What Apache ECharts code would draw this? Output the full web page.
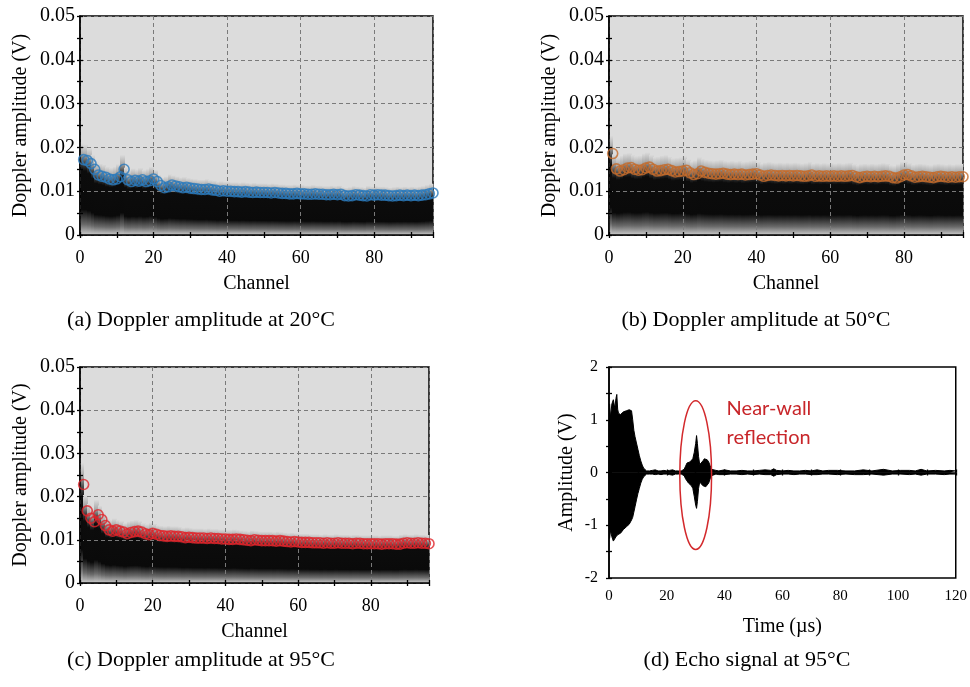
<!DOCTYPE html>
<html><head><meta charset="utf-8">
<script src="https://cdn.jsdelivr.net/npm/echarts@6/dist/echarts.min.js"></script>
<style>html,body{margin:0;padding:0;background:#fff}#c{width:970px;height:687px}</style>
</head><body><div id="c"></div>
<script>
// ---------- data ----------
const channelCount = 96; // channels 1..96
const channels = Array.from({length: channelCount}, (_, i) => i + 1);

const amp20 = [
 0.0172,0.0170,0.0163,0.0150,0.0137,0.0134,0.0132,0.0128,0.0126,0.0128,
 0.0133,0.0150,0.0126,0.0122,0.0125,0.0123,0.0126,0.0122,0.0124,0.0128,
 0.0122,0.0113,0.0108,0.0110,0.0114,0.0112,0.0110,0.0108,0.0109,0.0107,
 0.0106,0.0105,0.0104,0.0104,0.0105,0.0103,0.0102,0.0100,0.0101,0.0100,
 0.0100,0.0099,0.0099,0.0098,0.0099,0.0098,0.0097,0.0098,0.0097,0.0097,
 0.0097,0.0096,0.0097,0.0096,0.0095,0.0095,0.0094,0.0094,0.0095,0.0094,
 0.0094,0.0093,0.0093,0.0094,0.0093,0.0093,0.0092,0.0092,0.0093,0.0092,
 0.0093,0.0090,0.0089,0.0090,0.0092,0.0091,0.0090,0.0089,0.0092,0.0091,
 0.0092,0.0091,0.0091,0.0090,0.0089,0.0090,0.0091,0.0090,0.0091,0.0090,
 0.0091,0.0090,0.0091,0.0092,0.0094,0.0096
];
const amp50 = [
 0.0186,0.0151,0.0146,0.0149,0.0153,0.0154,0.0150,0.0148,0.0149,0.0153,
 0.0155,0.0150,0.0146,0.0147,0.0149,0.0150,0.0147,0.0144,0.0145,0.0146,
 0.0148,0.0142,0.0138,0.0140,0.0146,0.0143,0.0141,0.0140,0.0139,0.0140,
 0.0141,0.0139,0.0138,0.0139,0.0138,0.0139,0.0137,0.0138,0.0139,0.0140,
 0.0137,0.0134,0.0136,0.0137,0.0136,0.0135,0.0136,0.0135,0.0136,0.0135,
 0.0136,0.0135,0.0134,0.0135,0.0137,0.0134,0.0135,0.0134,0.0135,0.0134,
 0.0135,0.0134,0.0135,0.0134,0.0135,0.0136,0.0133,0.0131,0.0133,0.0134,
 0.0133,0.0134,0.0133,0.0134,0.0135,0.0134,0.0131,0.0130,0.0133,0.0137,
 0.0138,0.0135,0.0132,0.0133,0.0134,0.0133,0.0132,0.0131,0.0133,0.0134,
 0.0133,0.0132,0.0133,0.0132,0.0133,0.0133
];
const amp95 = [
 0.0228,0.0167,0.0150,0.0142,0.0158,0.0147,0.0133,0.0123,0.0120,0.0123,
 0.0120,0.0118,0.0114,0.0117,0.0119,0.0120,0.0118,0.0114,0.0112,0.0115,
 0.0113,0.0110,0.0109,0.0108,0.0109,0.0108,0.0108,0.0107,0.0105,0.0106,
 0.0105,0.0104,0.0104,0.0104,0.0103,0.0104,0.0103,0.0103,0.0102,0.0102,
 0.0101,0.0101,0.0102,0.0101,0.0100,0.0099,0.0098,0.0100,0.0099,0.0098,
 0.0098,0.0098,0.0098,0.0097,0.0098,0.0097,0.0096,0.0095,0.0096,0.0095,
 0.0094,0.0094,0.0094,0.0093,0.0093,0.0093,0.0092,0.0093,0.0092,0.0092,
 0.0093,0.0092,0.0092,0.0092,0.0091,0.0092,0.0092,0.0091,0.0091,0.0091,
 0.0091,0.0091,0.0090,0.0091,0.0091,0.0091,0.0090,0.0090,0.0092,0.0093,
 0.0092,0.0092,0.0093,0.0092,0.0092,0.0091
];

// echo signal envelope (time in µs, upper/lower amplitude in V)
const echoTime = [
 0,0.2,0.5,1.0,1.5,2.0,2.4,2.7,3.0,3.3,4,5,6,7,7.8,8.2,8.6,9,9.5,10,10.5,11,11.5,12,12.5,13,
 14,15,16,17,18,19,20,21,22,23,24,25,26,26.5,27,27.5,28,28.5,29,29.5,30,30.3,30.6,31,31.4,32,32.5,33,33.5,34,34.5,35,35.5,36,
 37,38,40,42,44,46,48,50,52,54,56,57,58,60,62,64,66,68,70,72,74,76,79,82,85,88,91,95,98,101,104,106,108,110,113,116,118,120
];
const echoUpper = [
 0,1.30,1.05,1.30,1.38,1.22,1.40,1.48,1.20,1.12,1.10,1.15,1.17,1.19,1.17,1.00,0.80,0.68,0.56,0.44,0.32,0.22,0.14,0.08,0.05,0.03,
 0.03,0.04,0.05,0.03,0.03,0.04,0.03,0.04,0.05,0.03,0.03,0.03,0.06,0.12,0.18,0.20,0.20,0.22,0.26,0.38,0.55,0.70,0.55,0.30,0.15,0.15,0.22,0.26,0.26,0.24,0.20,0.13,0.06,0.03,
 0.04,0.03,0.05,0.03,0.03,0.04,0.03,0.03,0.04,0.05,0.04,0.07,0.04,0.03,0.04,0.03,0.03,0.04,0.03,0.05,0.03,0.04,0.04,0.03,0.03,0.05,0.03,0.06,0.03,0.04,0.04,0.03,0.06,0.03,0.04,0.03,0.04,0.03
];
const echoLower = [
 0,-1.25,-1.10,-1.22,-1.30,-1.28,-1.22,-1.25,-1.18,-1.15,-1.15,-1.08,-1.03,-0.98,-0.90,-0.85,-0.75,-0.65,-0.52,-0.40,-0.30,-0.20,-0.13,-0.08,-0.05,-0.03,
 -0.03,-0.03,-0.04,-0.03,-0.04,-0.03,-0.03,-0.04,-0.05,-0.03,-0.03,-0.03,-0.06,-0.12,-0.16,-0.20,-0.22,-0.25,-0.30,-0.45,-0.62,-0.68,-0.55,-0.30,-0.18,-0.20,-0.25,-0.28,-0.27,-0.25,-0.20,-0.12,-0.06,-0.03,
 -0.03,-0.04,-0.04,-0.03,-0.03,-0.04,-0.03,-0.04,-0.03,-0.04,-0.04,-0.07,-0.04,-0.03,-0.03,-0.04,-0.03,-0.03,-0.04,-0.04,-0.03,-0.03,-0.04,-0.03,-0.04,-0.04,-0.03,-0.05,-0.03,-0.03,-0.04,-0.03,-0.05,-0.03,-0.03,-0.04,-0.03,-0.03
];

// annotation: ellipse [centre time, centre amplitude, half-width µs, half-height V]
const reflectionEllipse = [30, -0.05, 5.5, 1.41];
const noteAnchor = [40.7, 0.94];
const noteText = 'Near-wall\nreflection';

const captions = ['(a) Doppler amplitude at 20°C', '(b) Doppler amplitude at 50°C',
                  '(c) Doppler amplitude at 95°C', '(d) Echo signal at 95°C'];
const markerColors = ['#2a7bbd', '#c46c2c', '#e0242a'];

// ---------- chart ----------
const SERIF = '"Liberation Serif","Times New Roman",serif';
const chart = echarts.init(document.getElementById('c'), null, {renderer: 'canvas'});

const gridRects = [
  {left: 80, top: 16, width: 353, height: 219},
  {left: 609, top: 16, width: 354, height: 219},
  {left: 80, top: 367, width: 349, height: 216},
  {left: 609, top: 367, width: 350, height: 211}
];
const grids = gridRects.map((r, i) => Object.assign({
  show: true, borderColor: '#000', borderWidth: 1.5,
  backgroundColor: i < 3 ? '#dcdcdc' : '#ffffff'
}, r));

const xAxes = [], yAxes = [];
function tickAxis(g, pos, min, max, interval, inside) {
  return {
    type: 'value', gridIndex: g, position: pos, min, max, interval, z: 5,
    axisLine: {show: false},
    axisTick: {show: true, inside, length: 3, lineStyle: {color: '#000', width: 1.3}},
    axisLabel: {show: false}, splitLine: {show: false}
  };
}
const dash = {show: true, lineStyle: {color: '#7a7a7a', type: [4, 3], width: 1}};
for (let g = 0; g < 4; g++) {
  const isEcho = g === 3;
  const xMax = isEcho ? 120 : 96;
  xAxes.push({
    type: 'value', gridIndex: g, position: 'bottom', min: 0, max: xMax, interval: 20, z: 5,
    name: isEcho ? 'Time (µs)' : 'Channel', nameLocation: 'middle', nameGap: isEcho ? 39 : 39,
    nameTextStyle: {fontFamily: SERIF, fontSize: 20, color: '#000'},
    axisLine: {show: true, lineStyle: {color: '#000', width: 1.5}},
    axisTick: {show: false},
    axisLabel: {fontFamily: SERIF, fontSize: isEcho ? 15 : 18, color: '#000', margin: isEcho ? 11 : 14,
      formatter: v => (v % 20 === 0 ? String(v) : '')},
    splitLine: isEcho ? {show: false} : dash
  });
  xAxes.push(tickAxis(g, 'bottom', 0, xMax, 10, false));
  xAxes.push(tickAxis(g, 'bottom', 0, xMax, 10, true));
  yAxes.push({
    type: 'value', gridIndex: g, position: 'left',
    min: isEcho ? -2 : 0, max: isEcho ? 2 : 0.05, interval: isEcho ? 1 : 0.01, z: 5,
    name: isEcho ? 'Amplitude (V)' : 'Doppler amplitude (V)', nameLocation: 'middle',
    nameGap: isEcho ? 32 : 49,
    nameTextStyle: {fontFamily: SERIF, fontSize: 20, color: '#000'},
    axisLine: {show: true, lineStyle: {color: '#000', width: 1.5}},
    axisTick: {show: false},
    axisLabel: {fontFamily: SERIF, fontSize: isEcho ? 16 : 20, color: '#000', margin: isEcho ? 11 : 5,
      formatter: v => isEcho ? String(Math.round(v)) : (Math.abs(v) < 1e-9 ? '0' : v.toFixed(2))},
    splitLine: isEcho ? {show: false} : dash
  });
  yAxes.push(tickAxis(g, 'left', isEcho ? -2 : 0, isEcho ? 2 : 0.05, isEcho ? 0.5 : 0.005, false));
  yAxes.push(tickAxis(g, 'left', isEcho ? -2 : 0, isEcho ? 2 : 0.05, isEcho ? 0.5 : 0.005, true));
}

// density haze behind the markers, one opaque gradient column per channel
function densityItem(params, api) {
  const x = api.value(0), v = api.value(1);
  const top = v * 1.22;
  const p0 = api.coord([x - 1, 0]);
  const p1 = api.coord([x, top]);
  const off = y => 1 - y / top;
  const x0 = Math.floor(p0[0]), x1 = Math.ceil(p1[0]);
  return {
    type: 'rect',
    shape: {x: x0, y: p1[1], width: x1 - x0, height: p0[1] - p1[1]},
    style: {fill: {type: 'linear', x: 0, y: 0, x2: 0, y2: 1, colorStops: [
      {offset: 0, color: '#dcdcdc'},
      {offset: off(v * 1.08), color: '#a8a8a8'},
      {offset: off(v * 0.98), color: '#505050'},
      {offset: off(v * 0.86), color: '#0c0c0c'},
      {offset: off(v * 0.34), color: '#0a0a0a'},
      {offset: off(v * 0.14), color: '#6a6a6a'},
      {offset: 1, color: '#cbcbcb'}
    ]}}
  };
}

const series = [];
[amp20, amp50, amp95].forEach((arr, g) => {
  const pts = channels.map((c, i) => [c, arr[i]]);
  series.push({
    type: 'custom', xAxisIndex: 3 * g, yAxisIndex: 3 * g, z: 1, clip: true, silent: true,
    renderItem: densityItem, data: pts
  });
  series.push({
    type: 'scatter', xAxisIndex: 3 * g, yAxisIndex: 3 * g, z: 8, symbol: 'circle', symbolSize: 10,
    itemStyle: {color: 'rgba(0,0,0,0)', borderColor: markerColors[g], borderWidth: 1.6},
    data: pts
  });
});
const lineBase = {type: 'line', xAxisIndex: 9, yAxisIndex: 9, showSymbol: false, clip: true, z: 3,
  lineStyle: {color: '#000', width: 1}, areaStyle: {color: '#000', opacity: 1, origin: 'auto'}};
series.push(Object.assign({}, lineBase, {data: echoTime.map((t, i) => [t, echoUpper[i]])}));
series.push(Object.assign({}, lineBase, {data: echoTime.map((t, i) => [t, echoLower[i]])}));
series.push({
  type: 'custom', xAxisIndex: 9, yAxisIndex: 9, z: 9, clip: false, silent: true,
  data: [reflectionEllipse],
  renderItem: (params, api) => {
    const c = api.coord([api.value(0), api.value(1)]);
    const s = api.size([api.value(2), api.value(3)]);
    return {type: 'ellipse', shape: {cx: c[0], cy: c[1], rx: s[0], ry: s[1]},
      style: {fill: 'none', stroke: '#d3292c', lineWidth: 1.5}};
  }
});
series.push({
  type: 'custom', xAxisIndex: 9, yAxisIndex: 9, z: 9, clip: false, silent: true,
  data: [noteAnchor],
  renderItem: (params, api) => {
    const c = api.coord([api.value(0), api.value(1)]);
    return {type: 'text', style: {text: noteText, x: c[0], y: c[1], fill: '#c8262a',
      font: '20px Lato, "Open Sans", sans-serif', align: 'left', verticalAlign: 'middle', lineHeight: 29}};
  }
});

const capPos = [[201, 320], [756, 320], [201, 660], [747, 660]];
const graphic = captions.map((t, i) => ({
  type: 'text', x: capPos[i][0], y: capPos[i][1], silent: true,
  style: {text: t, fill: '#000', font: '22px ' + SERIF, align: 'center', verticalAlign: 'middle'}
}));

chart.setOption({
  animation: false,
  grid: grids, xAxis: xAxes, yAxis: yAxes, series, graphic
});
</script></body></html>
